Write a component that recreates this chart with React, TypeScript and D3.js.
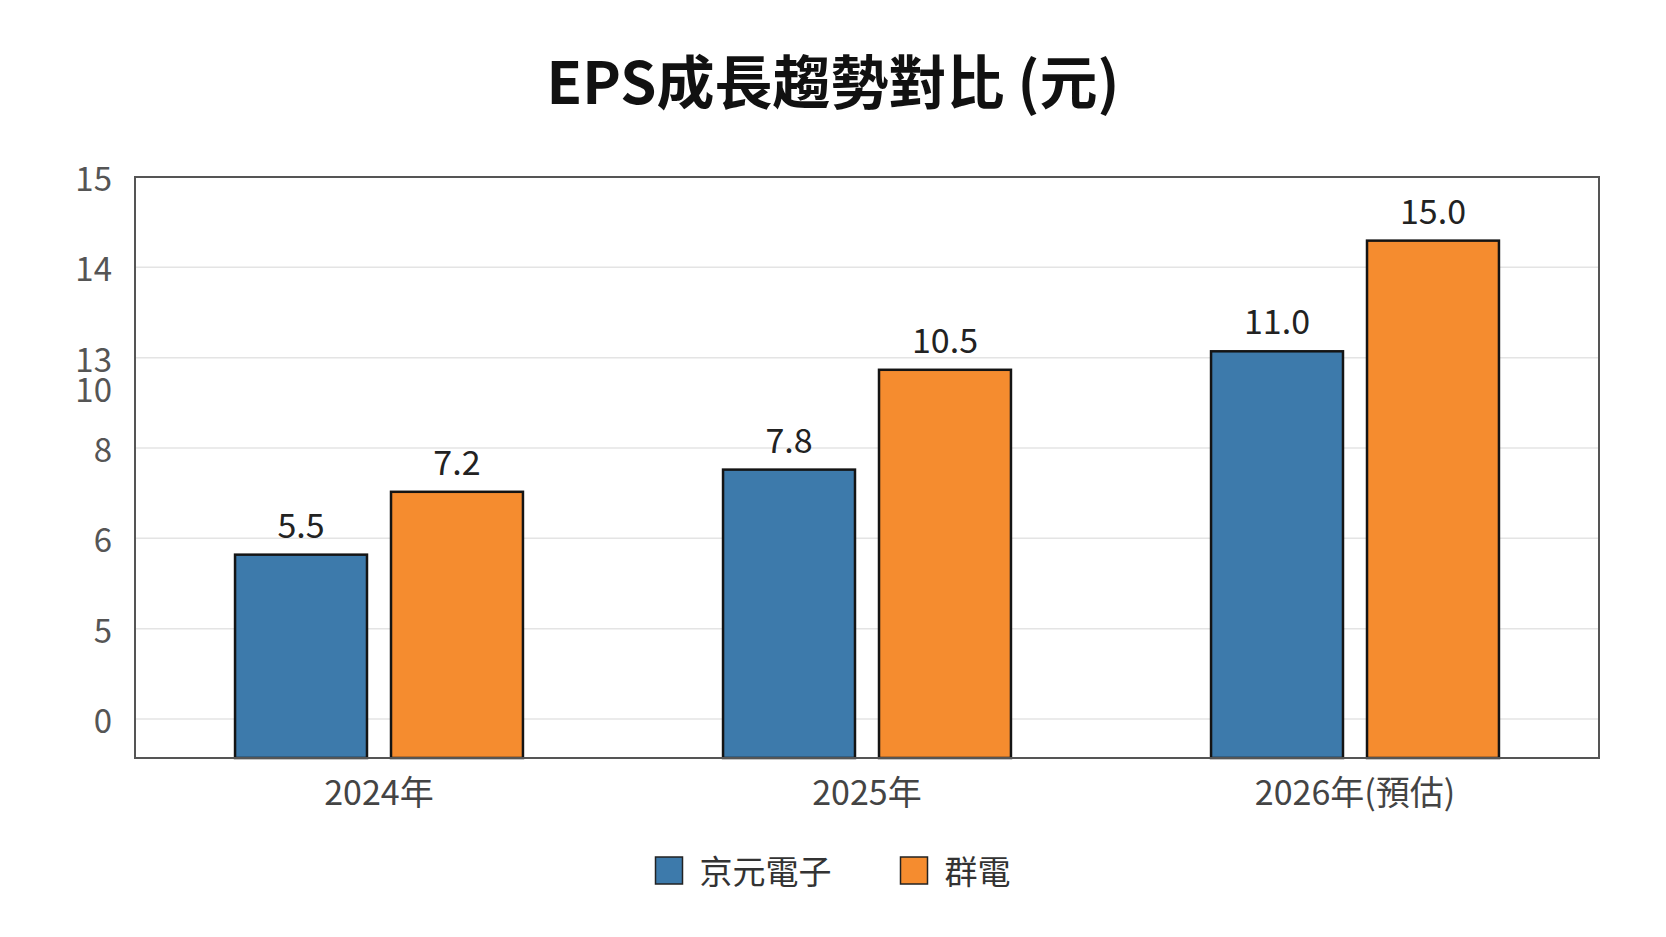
import { useEffect, useRef } from "react";
import * as d3 from "d3";

// data
const years = ["2024年", "2025年", "2026年(預估)"];
const seriesNames = ["京元電子", "群電"];
const kyecEps = [5.5, 7.8, 11.0];
const chiconyEps = [7.2, 10.5, 15.0];
const seriesColors = ["#3d7aab", "#f58c2f"];

// y axis labels as printed in the picture (evenly spaced rows, plus a stray "10")
const gridLabels = ["15", "14", "13", "8", "6", "5", "0"];
const extraTicks = [10];

const title = "EPS成長趨勢對比 (元)";
const FONT = "'Noto Sans CJK TC', 'Noto Sans', sans-serif";

export default function App() {
  const ref = useRef<SVGSVGElement>(null);

  useEffect(() => {
    if (!ref.current) return;
    const svg = d3.select(ref.current);
    svg.selectAll("*").remove();

    const W = 1666;
    const H = 937;
    const m = { top: 177, right: 67, bottom: 179, left: 135 };
    const w = W - m.left - m.right;
    const h = H - m.top - m.bottom;

    svg.attr("viewBox", `0 0 ${W} ${H}`).attr("width", W).attr("height", H);

    svg
      .append("rect")
      .attr("width", W)
      .attr("height", H)
      .attr("fill", "#ffffff");

    // title
    svg
      .append("text")
      .attr("x", W / 2)
      .attr("y", 104)
      .attr("text-anchor", "middle")
      .attr("font-family", FONT)
      .attr("font-size", 58)
      .attr("font-weight", 700)
      .attr("fill", "#111")
      .text(title);

    const rows = years.map((year, i) => ({
      year,
      values: [kyecEps[i], chiconyEps[i]],
    }));

    const x0 = d3
      .scaleBand<string>()
      .domain(years)
      .range([0, w])
      .paddingInner(0.41)
      .paddingOuter(0.205);
    const x1 = d3
      .scaleBand<number>()
      .domain(d3.range(seriesNames.length))
      .range([0, x0.bandwidth()])
      .paddingInner(0.154);

    // the bars in the picture are squeezed above 11
    const y = d3
      .scaleLinear()
      .domain([0, 11, 17.3])
      .range([h, h * 0.3, 0]);

    const rowY = d3
      .scalePoint<string>()
      .domain(gridLabels)
      .range([0, h - 39]);

    const g = svg
      .append("g")
      .attr("transform", `translate(${m.left},${m.top})`);

    // grid
    g.selectAll("line.grid")
      .data(gridLabels.slice(1))
      .join("line")
      .attr("class", "grid")
      .attr("x1", 0)
      .attr("x2", w)
      .attr("y1", (d) => rowY(d)!)
      .attr("y2", (d) => rowY(d)!)
      .attr("stroke", "#e4e4e4")
      .attr("stroke-width", 1.5);

    // y labels
    g.selectAll("text.ytick")
      .data(gridLabels)
      .join("text")
      .attr("class", "ytick")
      .attr("x", -23)
      .attr("y", (d) => rowY(d)!)
      .attr("text-anchor", "end")
      .attr("dominant-baseline", "central")
      .attr("font-family", FONT)
      .attr("font-size", 33)
      .attr("fill", "#555")
      .text((d) => d);

    g.selectAll("text.yextra")
      .data(extraTicks)
      .join("text")
      .attr("class", "yextra")
      .attr("x", -23)
      .attr("y", (d) => y(d))
      .attr("text-anchor", "end")
      .attr("dominant-baseline", "central")
      .attr("font-family", FONT)
      .attr("font-size", 33)
      .attr("fill", "#555")
      .text((d) => String(d));

    // bars
    const groups = g
      .selectAll("g.year")
      .data(rows)
      .join("g")
      .attr("class", "year")
      .attr("transform", (d) => `translate(${x0(d.year)},0)`);

    groups
      .selectAll("rect")
      .data((d) => d.values.map((v, i) => ({ v, i })))
      .join("rect")
      .attr("x", (d) => x1(d.i)!)
      .attr("y", (d) => y(d.v))
      .attr("width", x1.bandwidth())
      .attr("height", (d) => h - y(d.v))
      .attr("fill", (d) => seriesColors[d.i])
      .attr("stroke", "#141414")
      .attr("stroke-width", 2.5);

    groups
      .selectAll("text")
      .data((d) => d.values.map((v, i) => ({ v, i })))
      .join("text")
      .attr("x", (d) => x1(d.i)! + x1.bandwidth() / 2)
      .attr("y", (d) => y(d.v) - 17)
      .attr("text-anchor", "middle")
      .attr("font-family", FONT)
      .attr("font-size", 34)
      .attr("fill", "#222")
      .text((d) => d.v.toFixed(1));

    // plot frame
    g.append("rect")
      .attr("width", w)
      .attr("height", h)
      .attr("fill", "none")
      .attr("stroke", "#555")
      .attr("stroke-width", 2);

    // x labels
    g.selectAll("text.xtick")
      .data(years)
      .join("text")
      .attr("class", "xtick")
      .attr("x", (d) => x0(d)! + x0.bandwidth() / 2)
      .attr("y", h + 47)
      .attr("text-anchor", "middle")
      .attr("font-family", FONT)
      .attr("font-size", 34)
      .attr("fill", "#444")
      .text((d) => d);

    // legend
    const box = 27;
    const fs = 33;
    const itemW = seriesNames.map((s) => box + 17 + s.length * fs);
    const gapW = 69;
    const total = d3.sum(itemW) + gapW * (seriesNames.length - 1);
    let lx = W / 2 - total / 2;
    const leg = svg.append("g");
    seriesNames.forEach((name, i) => {
      leg
        .append("rect")
        .attr("x", lx)
        .attr("y", 857)
        .attr("width", box)
        .attr("height", box)
        .attr("fill", seriesColors[i])
        .attr("stroke", "#222")
        .attr("stroke-width", 1.5);
      leg
        .append("text")
        .attr("x", lx + box + 17)
        .attr("y", 870)
        .attr("dominant-baseline", "central")
        .attr("font-family", FONT)
        .attr("font-size", fs)
        .attr("fill", "#333")
        .text(name);
      lx += itemW[i] + gapW;
    });
  }, []);

  return (
    <div style={{ position: "absolute", left: 0, top: 0 }}>
      <svg ref={ref} style={{ display: "block" }} />
    </div>
  );
}
